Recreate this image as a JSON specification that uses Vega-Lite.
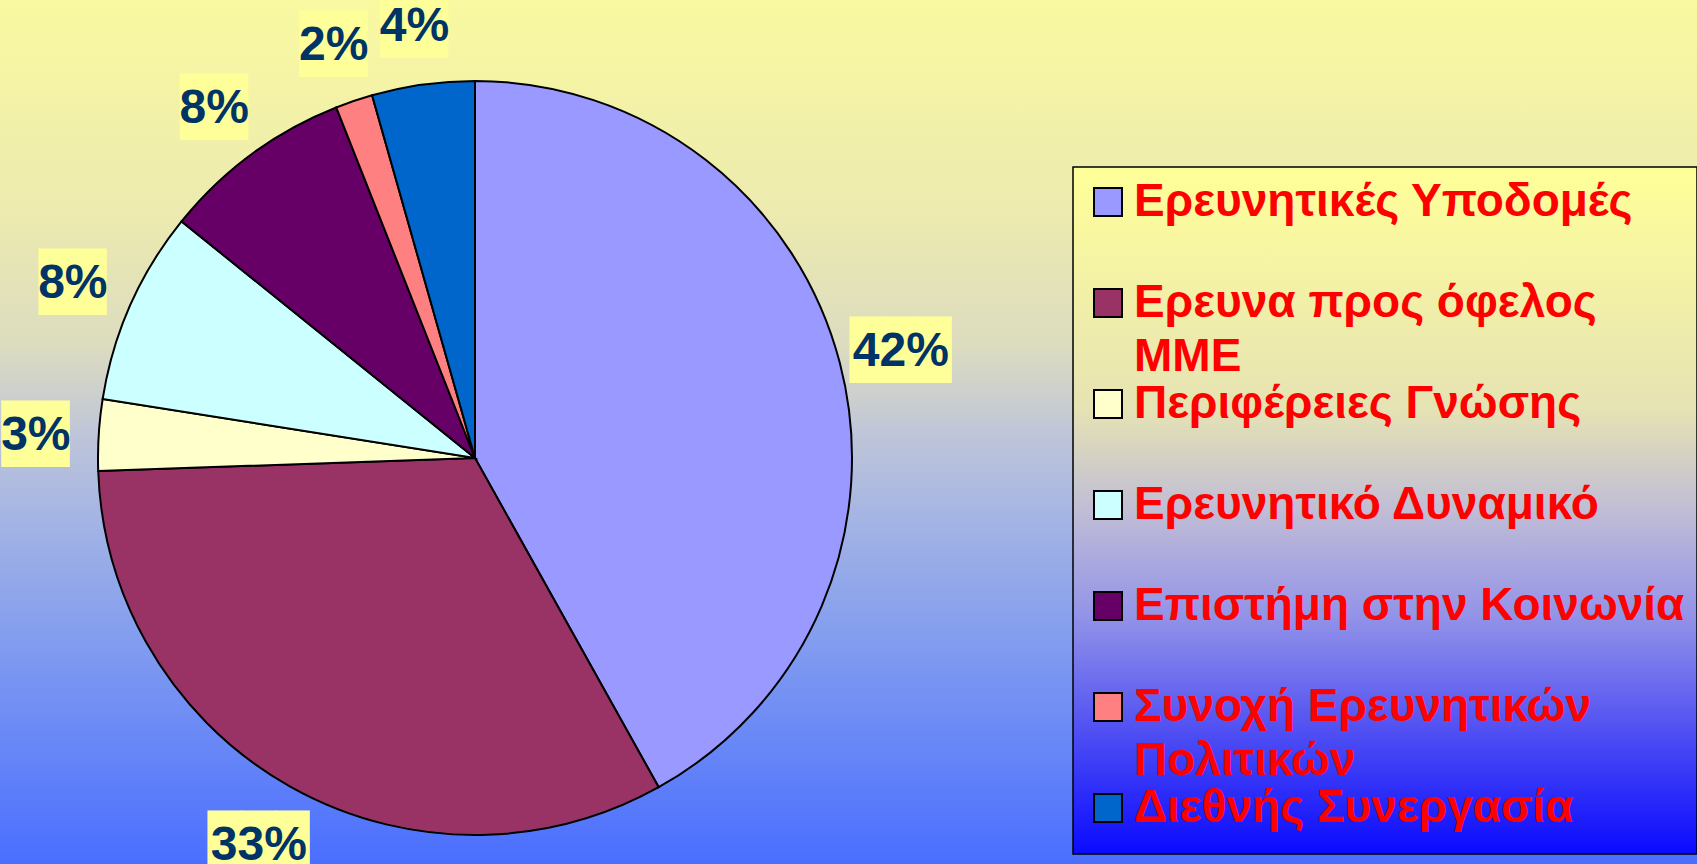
{
  "$schema": "https://vega.github.io/schema/vega-lite/v6.json",
  "width": 1697,
  "height": 864,
  "autosize": {"type": "none"},
  "padding": 0,
  "background": "#F9F9A1",
  "config": {"view": {"stroke": null}},
  "datasets": {
    "shares": [
      {"i": 1, "cat": "Ερευνητικές Υποδομές", "value": 41.9, "label": "42%"},
      {"i": 2, "cat": "Ερευνα προς όφελος ΜΜΕ", "value": 32.55, "label": "33%"},
      {"i": 3, "cat": "Περιφέρειες Γνώσης", "value": 3.05, "label": "3%"},
      {"i": 4, "cat": "Ερευνητικό Δυναμικό", "value": 8.3, "label": "8%"},
      {"i": 5, "cat": "Επιστήμη στην Κοινωνία", "value": 8.2, "label": "8%"},
      {"i": 6, "cat": "Συνοχή Ερευνητικών Πολιτικών", "value": 1.6, "label": "2%"},
      {"i": 7, "cat": "Διεθνής Συνεργασία", "value": 4.4, "label": "4%"}
    ]
  },
  "data": {"name": "shares"},
  "layer": [
    {
      "data": {"values": [{}]},
      "mark": {
        "type": "rect",
        "fill": {
          "gradient": "linear", "x1": 0, "y1": 0, "x2": 0, "y2": 1,
          "stops": [
            {"offset": 0, "color": "#F9F9A1"},
            {"offset": 0.25, "color": "#ECEAAF"},
            {"offset": 0.4, "color": "#DCDCC0"},
            {"offset": 0.5, "color": "#C0C6D8"},
            {"offset": 0.6, "color": "#A4B4E4"},
            {"offset": 0.75, "color": "#809BF0"},
            {"offset": 1, "color": "#4A6EFF"}
          ]
        }
      },
      "encoding": {}
    },
    {
      "mark": {"type": "arc", "outerRadius": 377, "x": 475, "y": 458, "stroke": "#000000", "strokeWidth": 2},
      "encoding": {
        "theta": {"field": "value", "type": "quantitative", "stack": true},
        "order": {"field": "i", "type": "quantitative"},
        "color": {
          "field": "cat",
          "type": "nominal",
          "scale": {
            "domain": ["Ερευνητικές Υποδομές", "Ερευνα προς όφελος ΜΜΕ", "Περιφέρειες Γνώσης", "Ερευνητικό Δυναμικό", "Επιστήμη στην Κοινωνία", "Συνοχή Ερευνητικών Πολιτικών", "Διεθνής Συνεργασία"],
            "range": ["#9999FF", "#993366", "#FFFFCC", "#CCFFFF", "#660066", "#FF8080", "#0066CC"]
          },
          "legend": {
            "title": null,
            "orient": "none",
            "legendX": 1073,
            "legendY": 167,
            "padding": 12,
            "strokeColor": "#000000",
            "symbolType": "square",
            "symbolSize": 784,
            "symbolStrokeColor": "#000000",
            "symbolStrokeWidth": 2,
            "symbolOpacity": 1,
            "labelFont": "Liberation Sans",
            "labelFontSize": 46,
            "labelFontWeight": "bold",
            "labelColor": "#FF0000",
            "labelLimit": 0,
            "labelOffset": 3,
            "labelBaseline": "middle",
            "rowPadding": 1,
            "labelExpr": "datum.label == 'Ερευνα προς όφελος ΜΜΕ' ? ['Ερευνα προς όφελος', 'ΜΜΕ'] : datum.label == 'Συνοχή Ερευνητικών Πολιτικών' ? ['Συνοχή Ερευνητικών', 'Πολιτικών'] : [datum.label, '']",
            "encode": {
              "labels": {"update": {"lineHeight": {"signal": "datum.value == 'Διεθνής Συνεργασία' ? 11 : 54"}}},
              "legend": {
                "update": {
                  "fill": {
                    "value": {
                      "gradient": "linear", "x1": 0, "y1": 0, "x2": 0, "y2": 1,
                      "stops": [
                        {"offset": 0, "color": "#FFFF99"},
                        {"offset": 0.35, "color": "#E6E3B3"},
                        {"offset": 0.5, "color": "#C0BDD6"},
                        {"offset": 0.65, "color": "#9494E8"},
                        {"offset": 0.85, "color": "#4444F5"},
                        {"offset": 1, "color": "#0A0AFF"}
                      ]
                    }
                  },
                  "strokeWidth": {"value": 1.5}
                }
              }
            }
          }
        }
      }
    },
    {
      "mark": {"type": "text", "x": 475, "y": 458, "dy": 5, "radius": 440, "font": "DejaVu Sans Mono", "fontSize": 56, "color": "#FFFF99", "align": "center", "baseline": "middle"},
      "encoding": {
        "theta": {"field": "value", "type": "quantitative", "stack": true},
        "order": {"field": "i", "type": "quantitative"},
        "text": {"condition": {"test": "length(datum.label) > 2", "value": "███"}, "value": "██"}
      }
    },
    {
      "mark": {"type": "text", "x": 475, "y": 458, "dy": 5, "radius": 440, "font": "Liberation Sans", "fontSize": 48, "fontWeight": "bold", "color": "#003366", "align": "center", "baseline": "middle"},
      "encoding": {
        "theta": {"field": "value", "type": "quantitative", "stack": true},
        "order": {"field": "i", "type": "quantitative"},
        "text": {"field": "label", "type": "nominal"}
      }
    }
  ]
}
